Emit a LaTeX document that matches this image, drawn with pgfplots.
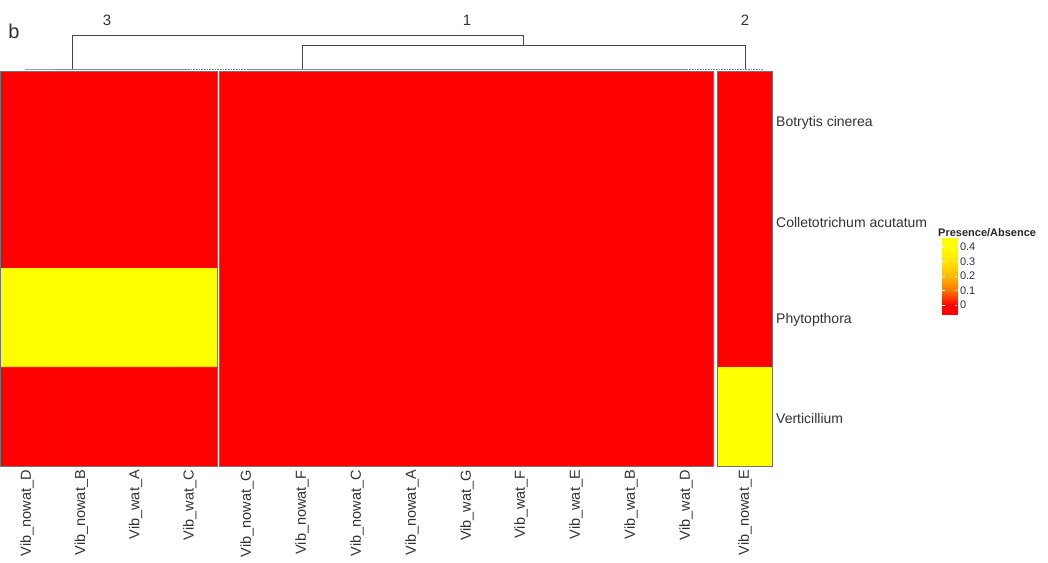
\documentclass[border=0pt]{standalone}
\usepackage{pgfplots}
\pgfplotsset{compat=1.18}
\usepackage{fontspec}
\setmainfont{Liberation Sans}

\definecolor{txt}{RGB}{50,50,50}
\definecolor{dendro}{RGB}{70,70,70}

% presence/absence values per cell: column index x, row index y, value v
\pgfplotstableread{
x y v
0 0 0
1 0 0
2 0 0
3 0 0
0 1 0
1 1 0
2 1 0
3 1 0
0 2 0.4
1 2 0.4
2 2 0.4
3 2 0.4
0 3 0
1 3 0
2 3 0
3 3 0
}\clusterthree

\pgfplotstableread{
x y v
0 0 0
1 0 0
2 0 0
3 0 0
4 0 0
5 0 0
6 0 0
7 0 0
8 0 0
0 1 0
1 1 0
2 1 0
3 1 0
4 1 0
5 1 0
6 1 0
7 1 0
8 1 0
0 2 0
1 2 0
2 2 0
3 2 0
4 2 0
5 2 0
6 2 0
7 2 0
8 2 0
0 3 0
1 3 0
2 3 0
3 3 0
4 3 0
5 3 0
6 3 0
7 3 0
8 3 0
}\clusterone

% single-column cluster: each cell as a rectangle patch (4 corners, same value)
\pgfplotstableread{
x y v
-0.5 -0.5 0
0.5 -0.5 0
0.5 0.5 0
-0.5 0.5 0
-0.5 0.5 0
0.5 0.5 0
0.5 1.5 0
-0.5 1.5 0
-0.5 1.5 0
0.5 1.5 0
0.5 2.5 0
-0.5 2.5 0
-0.5 2.5 0.4
0.5 2.5 0.4
0.5 3.5 0.4
-0.5 3.5 0.4
}\clustertwo

\pgfplotsset{
  colormap={redyellow}{rgb255=(255,0,0) rgb255=(255,120,0) rgb255=(255,185,0) rgb255=(255,230,0) rgb255=(255,255,0)},
  panel/.style={
    scale only axis, height=395pt,
    at={(#1pt,96pt)}, anchor=south west,
    ymin=-0.5, ymax=3.5, y dir=reverse,
    xtick=\empty, ytick=\empty,
    axis line style={draw=black!55, line width=0.6pt},
    point meta min=0, point meta max=0.4,
    colormap name=redyellow,
    enlargelimits=false,
    axis on top,
  },
  heatcells/.style={matrix plot*, shader=faceted, faceted color=mapped color, line width=0.6pt, point meta=explicit},
}

\begin{document}
\begin{tikzpicture}
\useasboundingbox (0,0) rectangle (1048pt,562pt);

% cluster 3
\begin{axis}[panel=0, width=217pt, xmin=-0.5, xmax=3.5]
\addplot[heatcells, mesh/cols=4] table[meta=v] {\clusterthree};
\end{axis}

% cluster 1 (every cell absent, so the panel ground takes the same red)
\begin{axis}[panel=219.5, width=494pt, xmin=-0.5, xmax=8.5,
  axis background/.style={fill=red}]
\addplot[heatcells, mesh/cols=9] table[meta=v] {\clusterone};
\end{axis}

% cluster 2
\begin{axis}[panel=717, width=55.5pt, xmin=-0.5, xmax=0.5]
\addplot[patch, patch type=rectangle, shader=faceted, faceted color=mapped color, line width=0.6pt, point meta=explicit] table[meta=v] {\clustertwo};
\end{axis}

% colour key
\begin{axis}[
  scale only axis, width=15pt, height=77pt,
  at={(942pt,247pt)}, anchor=south west,
  xmin=0, xmax=1, ymin=-0.069, ymax=0.462,
  enlargelimits=false,
  colormap name=redyellow, point meta min=0, point meta max=0.4,
  axis line style={draw=none},
  xtick=\empty,
  ytick={0,0.1,0.2,0.3,0.4},
  yticklabels={0,0.1,0.2,0.3,0.4},
  ytick pos=both, yticklabel pos=right,
  major tick length=2.5pt,
  tick style={white, line width=0.8pt},
  yticklabel style={font=\fontsize{11}{12}\selectfont, text=txt, anchor=west, xshift=-0.5pt},
  axis on top,
]
\addplot[surf, shader=interp, mesh/cols=2, point meta=explicit] table[meta=m] {
x y m
0 -0.069 0
1 -0.069 0
0 0 0
1 0 0
0 0.1 0.1
1 0.1 0.1
0 0.2 0.2
1 0.2 0.2
0 0.3 0.3
1 0.3 0.3
0 0.4 0.4
1 0.4 0.4
0 0.462 0.4
1 0.462 0.4
};
\end{axis}

% dendrogram, labels
\begin{axis}[
  scale only axis, width=1048pt, height=562pt,
  at={(0pt,0pt)}, anchor=south west,
  xmin=0, xmax=1048, ymin=0, ymax=562, y dir=reverse,
  hide axis, clip=false,
]
\addplot[gray!75, line width=1.2pt] coordinates {(25,69.5) (190,69.5)};
\addplot[gray!75, line width=1.2pt] coordinates {(247,69.5) (687,69.5)};
\addplot[black!50, densely dotted, line width=0.6pt] coordinates {(55,69) (763,69)};
\addplot[dendro, line width=0.8pt] coordinates {(72,69) (72,35) (523,35) (523,45)};
\addplot[dendro, line width=0.8pt] coordinates {(302,69) (302,45) (745,45) (745,69)};

\node[font=\fontsize{20}{22}\selectfont, text=txt] at (axis cs:14,31) {b};
\node[font=\fontsize{15}{16}\selectfont, text=txt] at (axis cs:107,20) {3};
\node[font=\fontsize{15}{16}\selectfont, text=txt] at (axis cs:467,20) {1};
\node[font=\fontsize{15}{16}\selectfont, text=txt] at (axis cs:745,20) {2};

\node[font=\fontsize{14}{16}\selectfont, text=txt, anchor=west, inner sep=0pt] at (axis cs:776,123) {Botrytis cinerea};
\node[font=\fontsize{14}{16}\selectfont, text=txt, anchor=west, inner sep=0pt] at (axis cs:776,222) {Colletotrichum acutatum};
\node[font=\fontsize{14}{16}\selectfont, text=txt, anchor=west, inner sep=0pt] at (axis cs:776,320) {Phytopthora};
\node[font=\fontsize{14}{16}\selectfont, text=txt, anchor=west, inner sep=0pt] at (axis cs:776,418) {Verticillium};

\node[font=\bfseries\fontsize{11}{12}\selectfont, text=black!85, anchor=west, inner sep=0pt] at (axis cs:938,233) {Presence/Absence};

\foreach \xc/\lab in {
  27/Vib\_nowat\_D, 81.4/Vib\_nowat\_B, 135.6/Vib\_wat\_A, 189.9/Vib\_wat\_C,
  247/Vib\_nowat\_G, 302/Vib\_nowat\_F, 357/Vib\_nowat\_C, 412/Vib\_nowat\_A,
  467/Vib\_wat\_G, 521/Vib\_wat\_F, 576/Vib\_wat\_E, 631/Vib\_wat\_B,
  686/Vib\_wat\_D, 745/Vib\_nowat\_E} {
  \edef\temp{\noexpand\node[font=\noexpand\fontsize{14.5}{16}\noexpand\selectfont, text=txt, rotate=90, anchor=east, inner sep=0pt] at (axis cs:\xc,470) {\unexpanded\expandafter{\lab}};}
  \temp
}
\end{axis}
\end{tikzpicture}
\end{document}
